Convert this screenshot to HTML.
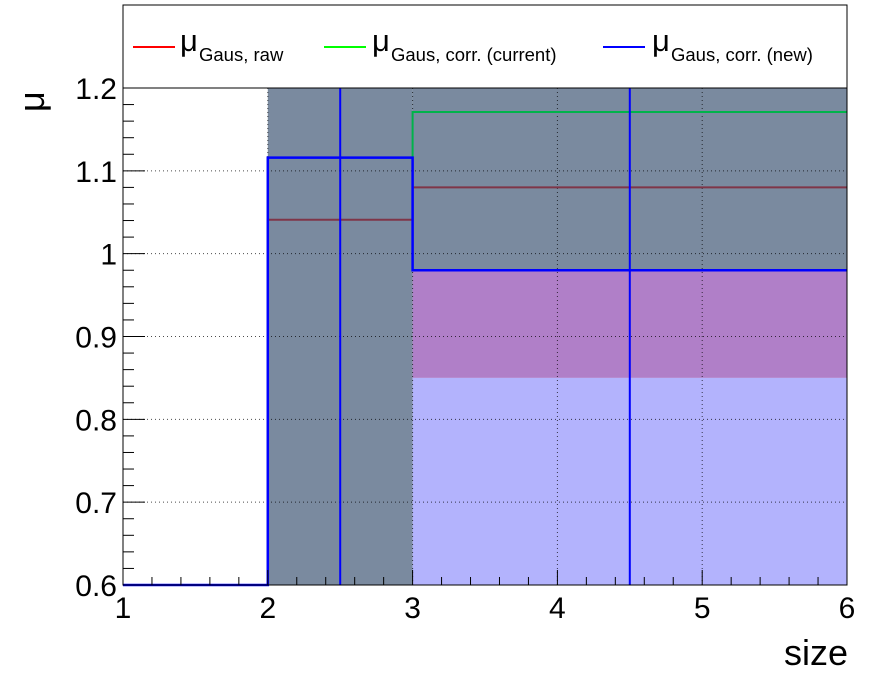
<!DOCTYPE html>
<html><head><meta charset="utf-8">
<style>
body{margin:0;background:#fff;}
svg{display:block;font-family:"Liberation Sans",sans-serif;}
</style></head>
<body>
<svg id="chart" width="883" height="681">
<rect x="123" y="5" width="724" height="83" fill="#fff" stroke="#000" stroke-width="1"/>
<g>
<line x1="133" y1="47" x2="175" y2="47" stroke="#ff0000" stroke-width="2"/>
<text x="180" y="51" font-size="31">μ</text><text x="199" y="61" font-size="18.5">Gaus, raw</text></g>
<g>
<line x1="324" y1="47" x2="366" y2="47" stroke="#00ff00" stroke-width="2"/>
<text x="372" y="51" font-size="31">μ</text><text x="391" y="61" font-size="18.5">Gaus, corr. (current)</text></g>
<g>
<line x1="603" y1="47" x2="645" y2="47" stroke="#0000ff" stroke-width="2"/>
<text x="652" y="51" font-size="31">μ</text><text x="671" y="61" font-size="18.5">Gaus, corr. (new)</text></g>
<g id="plot"></g>
<text x="848" y="665" font-size="36" text-anchor="end">size</text>
<text x="0" y="0" font-size="36" transform="translate(44,112) rotate(-90)">μ</text>
</svg>
<script>
const binEdges=[1,2,3,6];
const rawVals=[0.6,1.041,1.080];
const currentVals=[0.6,1.116,1.171];
const newVals=[0.6,1.116,0.980];
const newErrCenters=[2.5,4.5];
const bandLow=[0.6,0.6,0.85];
const bandMid=[0.6,0.6,0.98];
const xTicks=[1,2,3,4,5,6];
const yTicks=[0.6,0.7,0.8,0.9,1.0,1.1,1.2];
const yTickLabels=["0.6","0.7","0.8","0.9","1","1.1","1.2"];
const X0=123,X1=847,Y0=585,Y1=88,xmin=1,xmax=6,ymin=0.6,ymax=1.2;
const sx=v=>X0+(v-xmin)/(xmax-xmin)*(X1-X0);
const sy=v=>Y0-(v-ymin)/(ymax-ymin)*(Y0-Y1);
const g=document.getElementById('plot');
const NS='http://www.w3.org/2000/svg';
function mk(t,a){const e=document.createElementNS(NS,t);for(const k in a)e.setAttribute(k,a[k]);g.appendChild(e);return e;}
for(let i=0;i<3;i++){
 const xa=sx(binEdges[i]),xb=sx(binEdges[i+1]);
 if(i===0)continue;
 let r=mk('rect',{x:xa,y:sy(ymax),width:xb-xa,height:sy(bandMid[i])-sy(ymax),fill:'#7a8a9f'});
 
 if(bandMid[i]>bandLow[i]){
  r=mk('rect',{x:xa,y:sy(bandMid[i]),width:xb-xa,height:sy(bandLow[i])-sy(bandMid[i]),fill:'#b07fc8'});
  
  r=mk('rect',{x:xa,y:sy(bandLow[i]),width:xb-xa,height:sy(ymin)-sy(bandLow[i]),fill:'#b3b3fd'});
  
 }
}
xTicks.forEach(v=>{if(v>xmin&&v<xmax){const l=mk('line',{x1:sx(v),x2:sx(v),y1:Y0,y2:Y1,stroke:'#000','stroke-width':1,'stroke-dasharray':'1,3',opacity:0.7});}});
yTicks.forEach(v=>{if(v>ymin&&v<ymax){const l=mk('line',{x1:X0,x2:X1,y1:sy(v),y2:sy(v),stroke:'#000','stroke-width':1,'stroke-dasharray':'1,3',opacity:0.7});}});
function step(vals,color,name,w){
 let d='';
 for(let i=0;i<vals.length;i++){const xa=sx(binEdges[i]),xb=sx(binEdges[i+1]),y=sy(vals[i]);d+=(i===0?'M':'L')+xa+','+y+'L'+xb+','+y;}
 const p=mk('path',{d:d,fill:'none',stroke:color,'stroke-width':w});
 
}
step(currentVals,'#00b34a','series-current',2);
step(rawVals,'#7f3548','series-raw',2);
step(newVals,'#0000ff','series-new',2.5);
newErrCenters.forEach(c=>{const l=mk('line',{x1:sx(c),x2:sx(c),y1:Y0,y2:Y1,stroke:'#0000ff','stroke-width':2});});
let fr=mk('rect',{x:X0,y:Y1,width:X1-X0,height:Y0-Y1,fill:'none',stroke:'#000','stroke-width':1});

for(let v=xmin;v<=xmax+1e-9;v+=0.2){const major=Math.abs(v-Math.round(v))<1e-6;mk('line',{x1:sx(v),x2:sx(v),y1:Y0,y2:Y0-(major?15:8),stroke:'#000','stroke-width':1});}
xTicks.forEach(v=>{const t=mk('text',{x:sx(v),y:618,'font-size':30,'text-anchor':'middle'});t.textContent=String(v);});
for(let v=ymin;v<=ymax+1e-9;v+=0.02){const major=Math.abs(v*10-Math.round(v*10))<1e-6;mk('line',{x1:X0,x2:X0+(major?22:11),y1:sy(v),y2:sy(v),stroke:'#000','stroke-width':1});}
yTicks.forEach((v,i)=>{const t=mk('text',{x:117,y:sy(v)+11,'font-size':30,'text-anchor':'end'});t.textContent=yTickLabels[i];});
</script>
</body></html>
